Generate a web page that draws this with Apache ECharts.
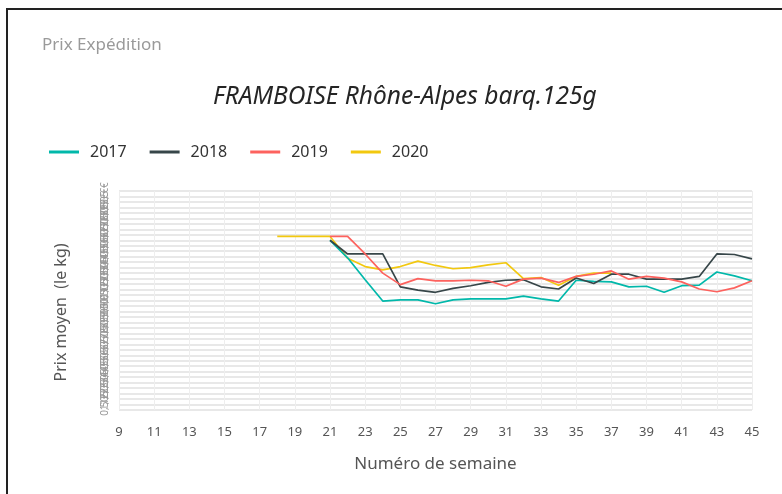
<!DOCTYPE html>
<html lang="fr">
<head>
  <meta charset="UTF-8">
  <title>Prix Expédition</title>
  <style>
    body{
      margin: 0;
      background: white;
    }
    .frame{
      position: absolute;
      left: 6px;
      top: 8px;
      width: 790px;
      height: 500px;
      border-left: 2px solid #222;
      border-top: 2px solid #222;
    }
    .chart{
      position: absolute;
      left: 0;
      top: 0;
      width: 782px;
      height: 494px;
    }
  </style>
</head>
<body>
<div class="frame"></div>
<div class="chart"></div>
<script src="https://cdn.jsdelivr.net/npm/echarts@6/dist/echarts.min.js"></script>
<script>
  // semaines 9 -> 45
  const weeks = [];
  for (let w = 9; w <= 45; w++) weeks.push(String(w));

  const years = ['2017', '2018', '2019', '2020'];
  const colors = ['#01B8AA', '#374649', '#FD625E', '#F2C80F'];

  // prix moyen (€/kg), première semaine de chaque série
  const start2017 = 21;
  const prix2017 = [15.5, 13.9, 11.9, 9.95, 10.05, 10.05, 9.7, 10.05, 10.15, 10.15, 10.15, 10.4, 10.15, 9.95,
    11.85, 11.75, 11.7, 11.25, 11.3, 10.75, 11.35, 11.4, 12.6, 12.25, 11.8];
  const start2018 = 21;
  const prix2018 = [15.5, 14.25, 14.25, 14.25, 11.25, 10.95, 10.75, 11.1, 11.35, 11.65, 11.85, 11.9, 11.25, 11.05,
    12.05, 11.55, 12.4, 12.4, 11.95, 11.95, 11.95, 12.2, 14.25, 14.2, 13.8];
  const start2019 = 21;
  const prix2019 = [15.85, 15.85, 14.25, 12.5, 11.45, 12.0, 11.8, 11.8, 11.85, 11.8, 11.3, 11.95, 12.05, 11.65,
    12.2, 12.4, 12.7, 11.95, 12.2, 12.05, 11.7, 11.05, 10.8, 11.15, 11.8];
  const start2020 = 18;
  const prix2020 = [15.85, 15.85, 15.85, 15.85, 13.85, 13.1, 12.8, 13.1, 13.6, 13.2, 12.9, 13.0, 13.25, 13.45,
    12.0, 12.1, 11.4, 12.2, 12.5, 12.5];

  function pad(startWeek, values){
    return weeks.map((w) => {
      const i = Number(w) - startWeek;
      return i >= 0 && i < values.length ? values[i] : null;
    });
  }
  const seriesData = [
    pad(start2017, prix2017),
    pad(start2018, prix2018),
    pad(start2019, prix2019),
    pad(start2020, prix2020)
  ];

  const font = '"Noto Sans", "Open Sans", sans-serif';
  const instance = echarts.init(document.querySelector('.chart'));
  const option = {
    color: colors,
    textStyle: { fontFamily: font },
    title: [
      {
        text: 'Prix Expédition',
        left: 37,
        top: 32,
        textStyle: { fontSize: 17, fontWeight: 'normal', color: '#9a9a9a', fontFamily: font }
      },
      {
        text: 'FRAMBOISE Rhône-Alpes barq.125g',
        left: 208,
        top: 80,
        textStyle: { fontSize: 24.5, fontWeight: 'normal', fontStyle: 'italic', color: '#252525', fontFamily: font }
      }
    ],
    legend: {
      left: 44,
      top: 139,
      itemWidth: 30,
      itemHeight: 3,
      itemGap: 23,
      icon: 'rect',
      textStyle: { fontSize: 16, color: '#333', fontFamily: font, padding: [0, 0, 0, 6] },
      data: years
    },
    grid: {
      left: 119,
      right: 30,
      top: 191,
      bottom: 84
    },
    xAxis: {
      type: 'category',
      data: weeks,
      boundaryGap: false,
      name: 'Numéro de semaine',
      nameLocation: 'middle',
      nameGap: 46,
      nameTextStyle: { fontSize: 17, color: '#555' },
      axisLine: { show: false },
      axisTick: { show: false },
      axisLabel: { interval: 1, fontSize: 13, color: '#555', margin: 16 },
      splitLine: { show: true, interval: 1, lineStyle: { color: '#eeeeee', width: 1 } }
    },
    yAxis: {
      type: 'value',
      min: 0,
      max: 20,
      interval: 0.5,
      name: 'Prix moyen  (le kg)',
      nameLocation: 'middle',
      nameGap: 50,
      nameTextStyle: { fontSize: 16, color: '#555', padding: [0, 24, 0, 0] },
      axisLine: { show: false },
      axisTick: { show: false },
      axisLabel: {
        fontSize: 10,
        color: '#999',
        rotate: 90,
        margin: 9,
        formatter: (v) => v.toFixed(1).replace('.', ',') + ' €'
      },
      splitLine: { lineStyle: { color: '#e1e1e1', width: 1.5 } }
    },
    series: years.map((y, i) => ({
      name: y,
      type: 'line',
      data: seriesData[i],
      showSymbol: false,
      symbol: 'none',
      lineStyle: { width: 1.7 },
      z: i === 3 ? 1 : 2 + i
    }))
  };
  instance.setOption(option);
</script>
</body>
</html>
